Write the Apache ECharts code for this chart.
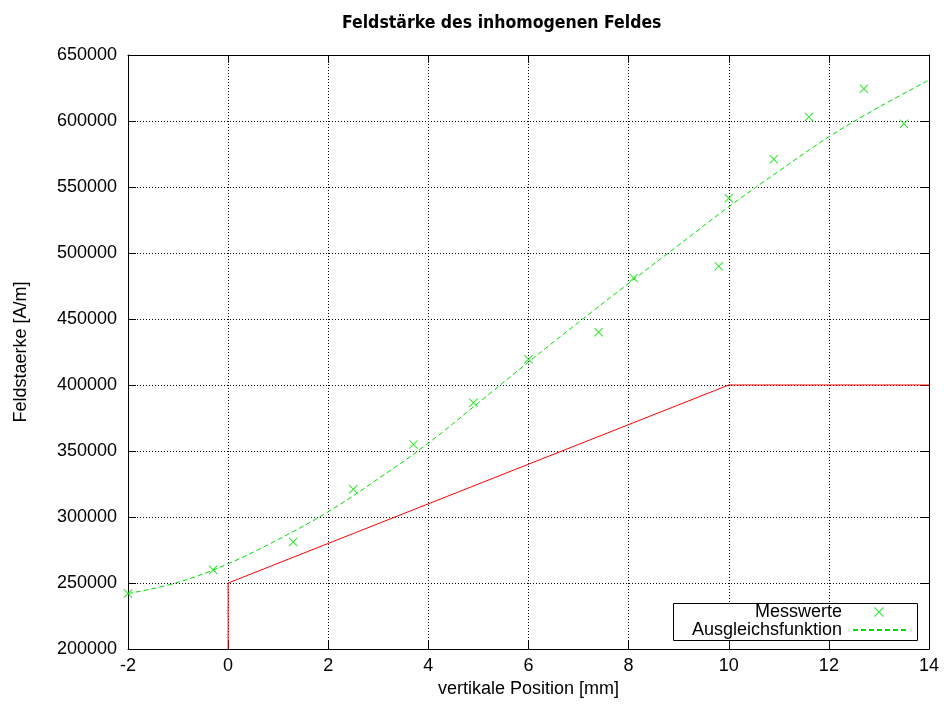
<!DOCTYPE html>
<html><head><meta charset="utf-8">
<script src="https://cdn.jsdelivr.net/npm/echarts@6/dist/echarts.min.js"></script>
<style>html,body{margin:0;padding:0;background:#fff}#c{width:944px;height:706px}</style>
</head><body><div id="c"></div>
<script>
const titleText = 'Feldstärke des inhomogenen Feldes';
const xName = 'vertikale Position [mm]';
const yName = 'Feldstaerke [A/m]';
const legendNames = ['Messwerte', 'Ausgleichsfunktion'];
const xMin = -2, xMax = 14, xStep = 2;
const yMin = 200000, yMax = 650000, yStep = 50000;

const messX = [-2, -0.3, 1.3, 2.5, 3.7, 4.9, 6.0, 7.4, 8.1, 9.8, 10.0, 10.9, 11.6, 12.7, 13.5];
const messY = [242000, 260000, 281000, 321000, 355000, 386500, 419500, 440000, 481000, 490000, 541500, 571000, 603000, 624500, 598000];

const fitX = [-2, -1, 0, 1, 2, 3, 4, 5, 6, 7, 8, 9, 10, 11, 12, 13, 14];
const fitY = [242000, 250500, 264600, 283000, 304000, 329000, 356000, 386500, 417400, 447500, 477000, 506000, 535000, 562000, 588000, 610500, 631000];

const refX = [0, 0, 10, 14];
const refY = [200000, 250000, 400000, 400000];

const FONT = 'Liberation Sans';
const zip = (a, b) => a.map((v, i) => [v, b[i]]);
const crossPath = 'path://M0,0.8L0.8,0L10,9.2L9.2,10ZM9.2,0L10,0.8L0.8,10L0,9.2Z';

const chart = echarts.init(document.getElementById('c'), null, {renderer: 'canvas'});
const axisCommon = {
  axisLine: {show: true, onZero: false, lineStyle: {color: '#000', width: 1}},
  axisTick: {show: true, inside: true, length: 8, lineStyle: {color: '#000', width: 1}},
};
chart.setOption({
  animation: false,
  backgroundColor: '#fff',
  title: {
    text: titleText, left: 337, top: 9,
    textStyle: {fontFamily: 'DejaVu Sans Condensed', fontWeight: 'bold', fontSize: 17.5, color: '#000'}
  },
  grid: {left: 128, right: 15, top: 55, bottom: 57, containLabel: false},
  xAxis: [
    Object.assign({
      type: 'value', min: xMin, max: xMax, interval: xStep, position: 'bottom',
      name: xName, nameLocation: 'middle', nameGap: 31,
      nameTextStyle: {fontFamily: FONT, fontSize: 18, color: '#000'},
      axisLabel: {fontFamily: FONT, fontSize: 18, color: '#000', margin: 8},
      splitLine: {show: true, lineStyle: {color: '#000', width: 1, type: [1, 2]}}
    }, axisCommon),
    Object.assign({
      type: 'value', min: xMin, max: xMax, interval: xStep, position: 'top',
      axisLabel: {show: false}, splitLine: {show: false}
    }, axisCommon)
  ],
  yAxis: [
    Object.assign({
      type: 'value', min: yMin, max: yMax, interval: yStep, position: 'left',
      name: yName, nameLocation: 'middle', nameGap: 98, nameRotate: 90,
      nameTextStyle: {fontFamily: FONT, fontSize: 18, color: '#000'},
      axisLabel: {fontFamily: FONT, fontSize: 18, color: '#000', margin: 11, formatter: v => String(v)},
      splitLine: {show: true, lineStyle: {color: '#000', width: 1, type: [1, 2]}}
    }, axisCommon),
    Object.assign({
      type: 'value', min: yMin, max: yMax, interval: yStep, position: 'right',
      axisLabel: {show: false}, splitLine: {show: false}
    }, axisCommon)
  ],
  legend: [
    {
      data: [legendNames[0]], orient: 'vertical', right: 60, top: 603, align: 'right',
      itemWidth: 10, itemHeight: 10, padding: 0, symbolKeepAspect: true,
      textStyle: {fontFamily: FONT, fontSize: 18, color: '#000', padding: [0, 27, 0, 0]}
    },
    {
      data: [legendNames[1]], orient: 'vertical', right: 37, top: 621, align: 'right',
      itemWidth: 53, itemHeight: 10, padding: 0,
      itemStyle: {opacity: 0},
      textStyle: {fontFamily: FONT, fontSize: 18, color: '#000', padding: [0, 6, 0, 0]}
    }
  ],
  graphic: [{
    type: 'rect', z: 3, silent: true,
    shape: {x: 673.5, y: 603.5, width: 244, height: 37},
    style: {fill: '#fff', stroke: '#000', lineWidth: 1}
  }],
  series: [
    {
      name: legendNames[0], type: 'scatter', data: zip(messX, messY),
      symbol: crossPath, symbolSize: 9, itemStyle: {color: '#00e000'}, z: 3
    },
    {
      name: legendNames[1], type: 'line', data: zip(fitX, fitY), smooth: 0.4,
      showSymbol: false, symbol: 'none',
      lineStyle: {color: '#00e000', width: 1, type: [5, 3]}, itemStyle: {color: '#00e000'}, z: 2
    },
    {
      name: 'ref', type: 'line', data: zip(refX, refY),
      showSymbol: false, symbol: 'none',
      lineStyle: {color: '#ff0000', width: 1}, z: 2
    }
  ]
});
</script></body></html>
